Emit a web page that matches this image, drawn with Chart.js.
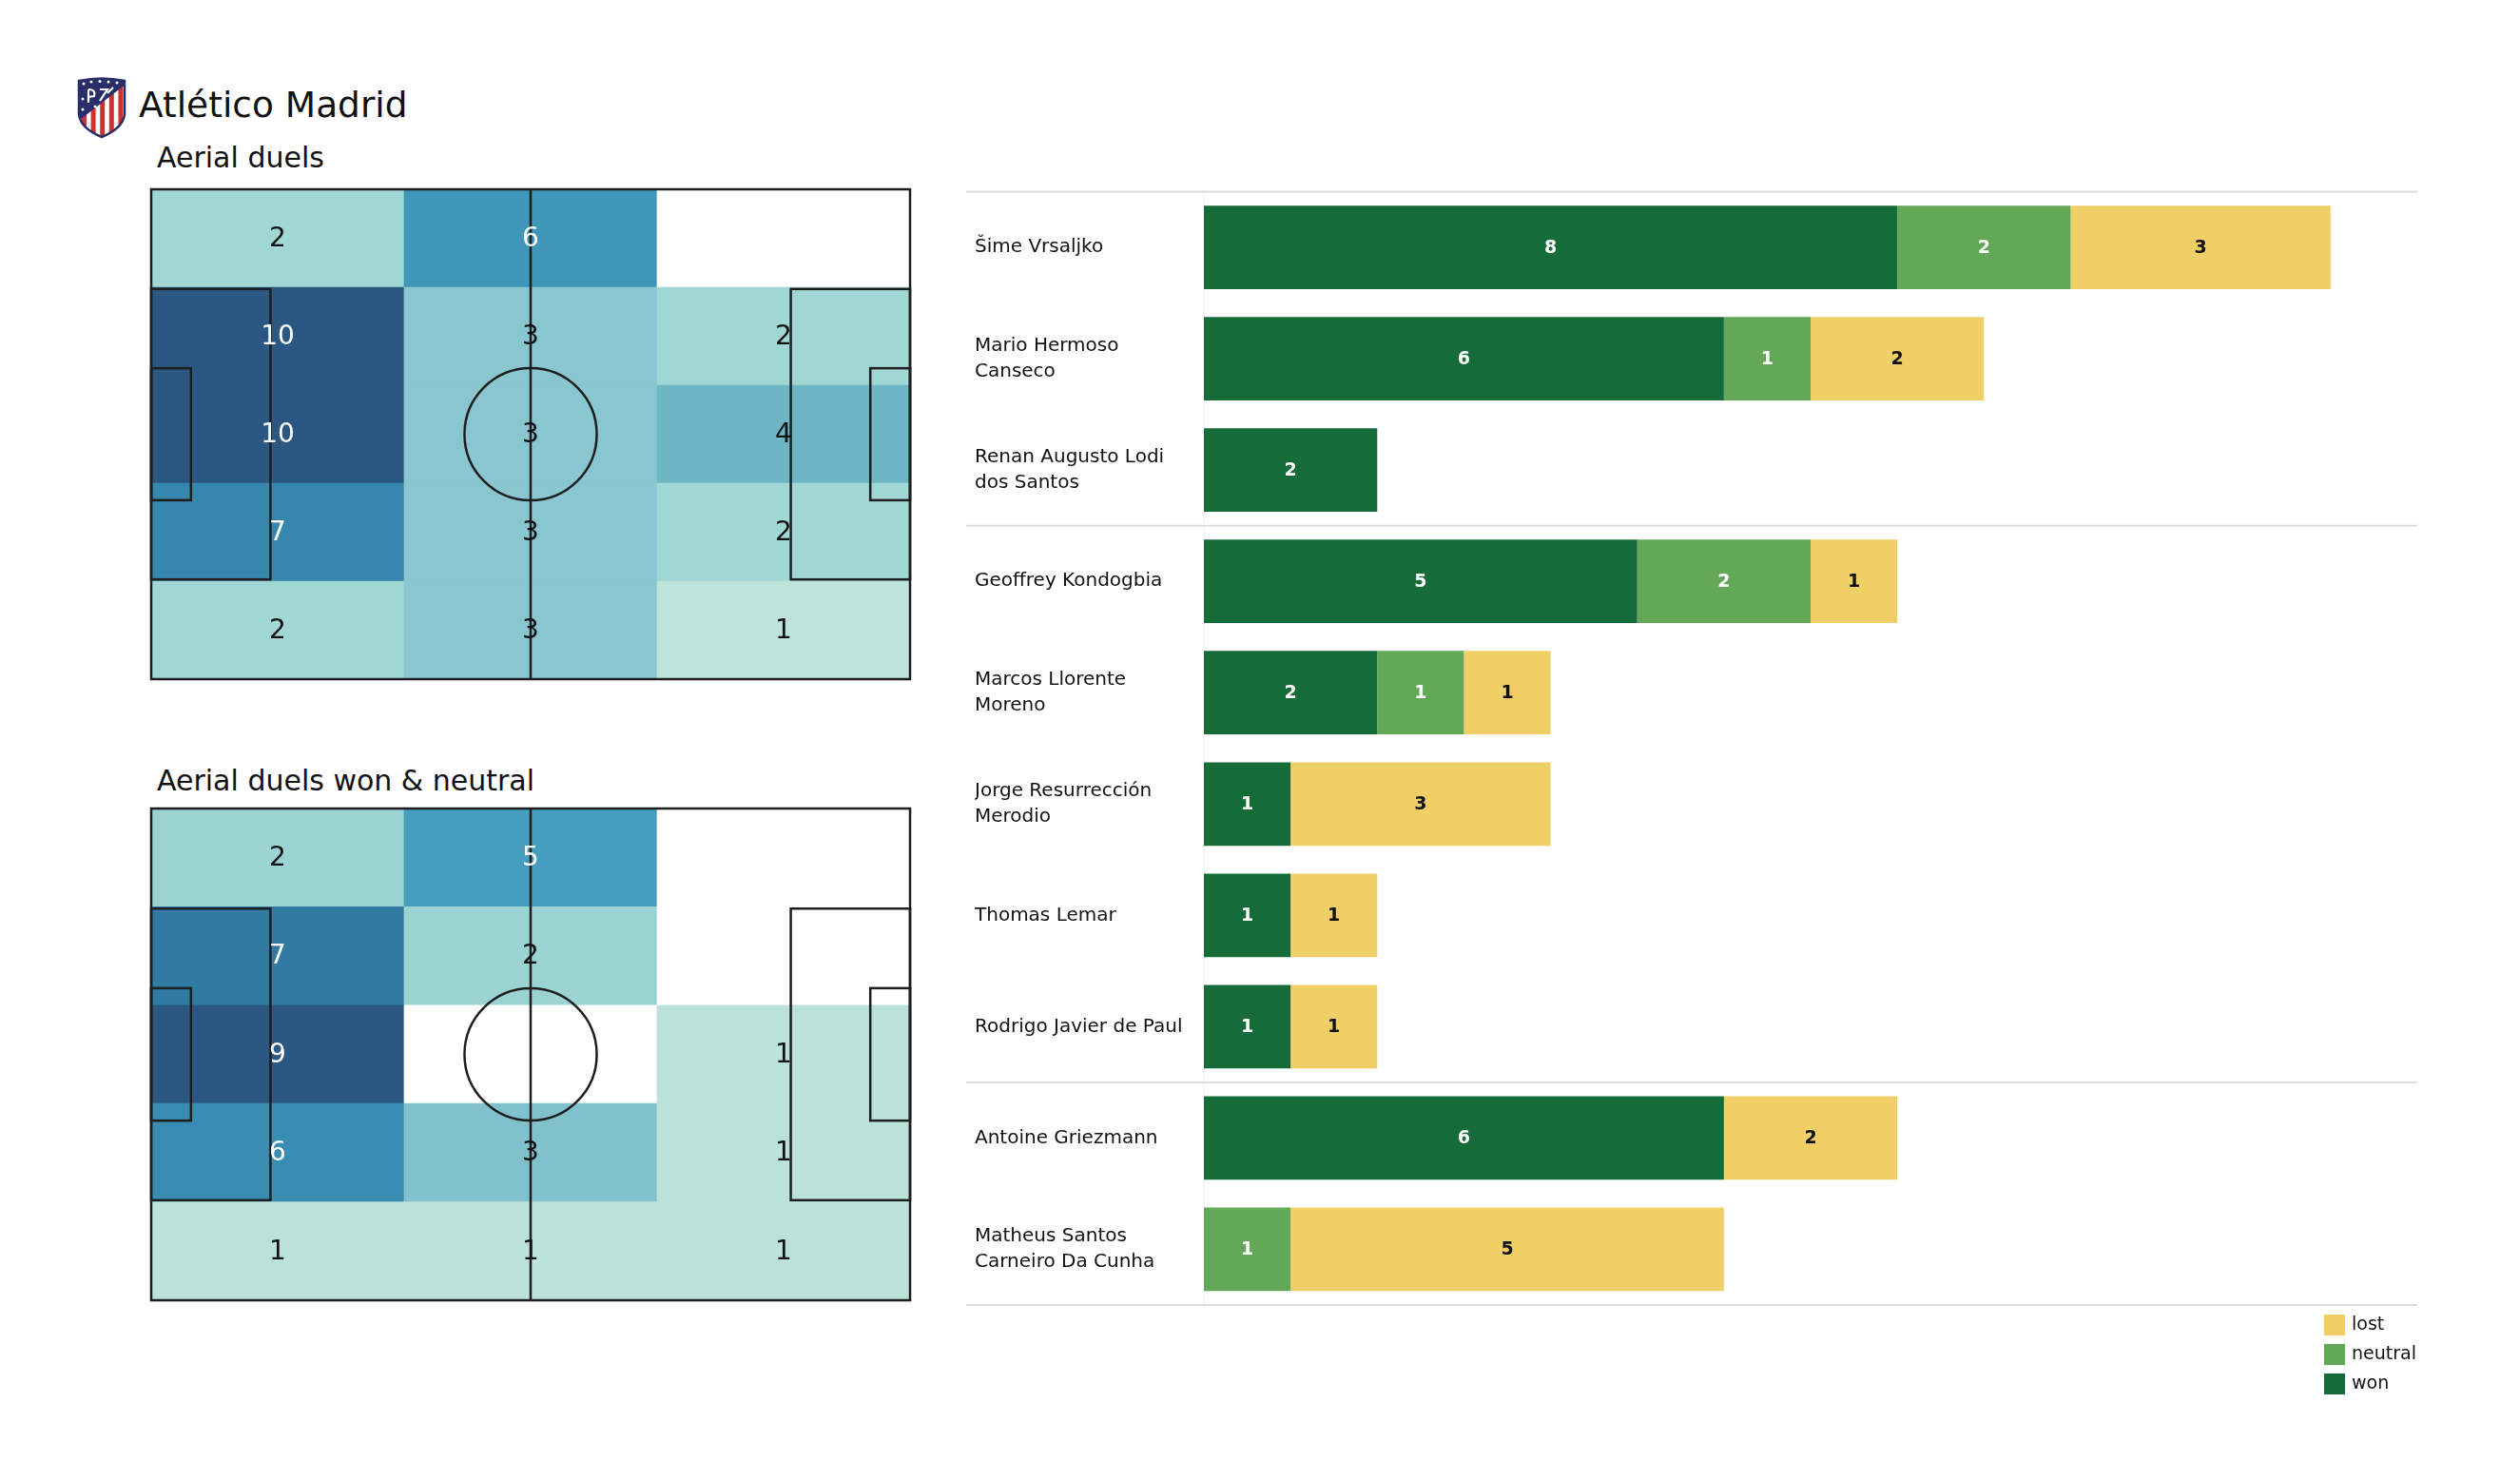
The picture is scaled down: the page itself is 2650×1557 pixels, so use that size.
<!DOCTYPE html>
<html><head><meta charset="utf-8">
<script src="https://cdn.jsdelivr.net/npm/chart.js@4.4.1/dist/chart.umd.min.js"></script>
<style>
html,body{margin:0;padding:0;background:#fff;}
body{width:2650px;height:1557px;position:relative;overflow:hidden;font-family:"DejaVu Sans",sans-serif;}
.abs{position:absolute;}
.t{position:absolute;white-space:nowrap;line-height:1;color:#111;}
</style></head><body>
<canvas id="crest" class="abs" width="52" height="66" style="left:81px;top:80px"></canvas>
<div class="t" style="left:146px;top:91.6px;font-size:37.5px">Atlético Madrid</div>
<div class="t" style="left:165px;top:151.3px;font-size:30px">Aerial duels</div>
<div class="t" style="left:165px;top:806.3px;font-size:30px">Aerial duels won &amp; neutral</div>
<canvas id="pitch1" class="abs" width="818" height="535" style="left:149px;top:189px"></canvas>
<canvas id="pitch2" class="abs" width="818" height="537" style="left:149px;top:840px"></canvas>
<canvas id="bars" class="abs" width="1540" height="1300" style="left:1016px;top:190px"></canvas>
<script>
// ---------------- DATA ----------------
// Heatmap grids: rows top -> bottom, columns left -> right (pitch zones)
const aerialDuels = [
  [2, 6, 0],
  [10, 3, 2],
  [10, 3, 4],
  [7, 3, 2],
  [2, 3, 1]
];
const aerialDuelsWonNeutral = [
  [2, 5, 0],
  [7, 2, 0],
  [9, 0, 1],
  [6, 3, 1],
  [1, 1, 1]
];

const players = [
  ['Šime Vrsaljko'],
  ['Mario Hermoso', 'Canseco'],
  ['Renan Augusto Lodi', 'dos Santos'],
  ['Geoffrey Kondogbia'],
  ['Marcos Llorente', 'Moreno'],
  ['Jorge Resurrección', 'Merodio'],
  ['Thomas Lemar'],
  ['Rodrigo Javier de Paul'],
  ['Antoine Griezmann'],
  ['Matheus Santos', 'Carneiro Da Cunha']
];
const wonValues     = [8, 6, 2, 5, 2, 1, 1, 1, 6, 0];
const neutralValues = [2, 1, 0, 2, 1, 0, 0, 0, 0, 1];
const lostValues    = [3, 2, 0, 1, 1, 3, 1, 1, 2, 5];
const groupBreaks = [3, 8]; // position-group separators (after n players)
const seriesNames = ['won', 'neutral', 'lost'];

// ---------------- STYLE ----------------
Chart.defaults.font.family = "'DejaVu Sans', sans-serif";
const PITCH = {length: 105, width: 68};
const heatStops = [
  [0.0, [212, 238, 226]],
  [0.1, [189, 227, 218]],
  [0.2, [160, 214, 211]],
  [0.3, [137, 198, 207]],
  [0.4, [109, 183, 197]],
  [0.55, [70, 159, 190]],
  [0.65, [58, 143, 180]],
  [0.75, [50, 126, 165]],
  [1.0, [43, 88, 131]]
];
function heatColor(v, maxV) {
  if (!v) return '#ffffff';
  const t = v / maxV;
  for (let i = 1; i < heatStops.length; i++) {
    if (t <= heatStops[i][0]) {
      const [t0, c0] = heatStops[i - 1], [t1, c1] = heatStops[i];
      const f = (t - t0) / (t1 - t0);
      const c = c0.map((a, k) => Math.round(a + (c1[k] - a) * f));
      return `rgb(${c[0]},${c[1]},${c[2]})`;
    }
  }
  const c = heatStops[heatStops.length - 1][1];
  return `rgb(${c[0]},${c[1]},${c[2]})`;
}

const pitchPlugin = {
  id: 'pitchLines',
  afterDatasetsDraw(chart) {
    const {ctx, scales: {x, y}} = chart;
    const X = v => x.getPixelForValue(v), Y = v => y.getPixelForValue(v);
    const L = PITCH.length, W = PITCH.width;
    ctx.save();
    ctx.strokeStyle = '#1e1e1e';
    ctx.lineWidth = 2.5;
    const rect = (x0, y0, x1, y1) => { ctx.strokeRect(X(x0), Y(y0), X(x1) - X(x0), Y(y1) - Y(y0)); };
    rect(0, 0, L, W);
    ctx.beginPath(); ctx.moveTo(X(L / 2), Y(0)); ctx.lineTo(X(L / 2), Y(W)); ctx.stroke();
    ctx.beginPath();
    ctx.arc(X(L / 2), Y(W / 2), X(9.15) - X(0), 0, Math.PI * 2); ctx.stroke();
    const pb = 40.32 / 2, sb = 18.32 / 2;
    rect(0, W / 2 - pb, 16.5, W / 2 + pb);
    rect(L - 16.5, W / 2 - pb, L, W / 2 + pb);
    rect(0, W / 2 - sb, 5.5, W / 2 + sb);
    rect(L - 5.5, W / 2 - sb, L, W / 2 + sb);
    // zone values
    const meta = chart.getDatasetMeta(0);
    const ds = chart.data.datasets[0];
    ctx.font = "28px 'DejaVu Sans'";
    ctx.textAlign = 'center';
    ctx.textBaseline = 'middle';
    meta.data.forEach((el, i) => {
      const raw = ds.data[i];
      if (!raw || !raw.v) return;
      ctx.fillStyle = raw.v / ds.maxV > 0.5 ? '#ffffff' : '#111111';
      ctx.fillText(String(raw.v), el.x, (el.y + el.base) / 2 + 1);
    });
    ctx.restore();
  }
};

function heatConfig(grid) {
  const rows = grid.length, cols = grid[0].length;
  const cw = PITCH.length / cols, rh = PITCH.width / rows;
  const maxV = Math.max(...grid.flat());
  const cells = [];
  grid.forEach((row, r) => row.forEach((v, c) => cells.push({x: (c + 0.5) * cw, y: [r * rh, (r + 1) * rh], v})));
  return {
    type: 'bar',
    data: {datasets: [{
      data: cells, maxV,
      backgroundColor: ctx => ctx.raw ? heatColor(ctx.raw.v, maxV) : '#ffffff',
      borderWidth: 0, borderSkipped: false,
      barPercentage: 1, categoryPercentage: 1
    }]},
    options: {
      responsive: false, animation: false, events: [],
      layout: {padding: 10},
      scales: {
        x: {type: 'linear', min: 0, max: PITCH.length, offset: false, display: false, ticks: {stepSize: cw}},
        y: {type: 'linear', min: 0, max: PITCH.width, reverse: true, display: false}
      },
      plugins: {legend: {display: false}, tooltip: {enabled: false}}
    },
    plugins: [pitchPlugin]
  };
}

new Chart(document.getElementById('pitch1'), heatConfig(aerialDuels));
new Chart(document.getElementById('pitch2'), heatConfig(aerialDuelsWonNeutral));

// ---------------- BAR CHART ----------------
const barDecor = {
  id: 'barDecor',
  beforeDatasetsDraw(chart) {
    const {ctx, chartArea, scales: {y}} = chart;
    const n = chart.data.labels.length;
    const band = y.getPixelForValue(1) - y.getPixelForValue(0);
    const bounds = [0, ...groupBreaks, n];
    ctx.save();
    ctx.strokeStyle = '#dcdcdc';
    ctx.lineWidth = 2;
    bounds.forEach(k => {
      const yy = y.getPixelForValue(0) + (k - 0.5) * band;
      ctx.beginPath(); ctx.moveTo(0, yy); ctx.lineTo(chartArea.right, yy); ctx.stroke();
    });
    ctx.restore();
  },
  afterDatasetsDraw(chart) {
    const {ctx} = chart;
    ctx.save();
    ctx.font = "bold 19px 'DejaVu Sans'";
    ctx.textAlign = 'center';
    ctx.textBaseline = 'middle';
    chart.data.datasets.forEach((ds, di) => {
      const meta = chart.getDatasetMeta(di);
      ctx.fillStyle = ds.valueColor;
      meta.data.forEach((el, i) => {
        const v = ds.data[i];
        if (!v) return;
        ctx.fillText(String(v), (el.x + el.base) / 2, el.y + 1);
      });
    });
    ctx.restore();
  },
  afterDraw(chart) {
    const {ctx, chartArea} = chart;
    const items = chart.data.datasets.slice().reverse();
    ctx.save();
    ctx.font = "19px 'DejaVu Sans'";
    ctx.textAlign = 'left';
    ctx.textBaseline = 'middle';
    const x0 = chartArea.right - 98;
    items.forEach((ds, i) => {
      const yy = chartArea.bottom + 10 + i * 31;
      ctx.fillStyle = ds.backgroundColor;
      ctx.fillRect(x0, yy, 22, 22);
      ctx.fillStyle = '#111';
      ctx.fillText(ds.label, x0 + 29, yy + 11);
    });
    ctx.restore();
  }
};

new Chart(document.getElementById('bars'), {
  type: 'bar',
  data: {
    labels: players,
    datasets: [
      {label: seriesNames[0], data: wonValues, backgroundColor: '#156c39', valueColor: '#ffffff'},
      {label: seriesNames[1], data: neutralValues, backgroundColor: '#62a857', valueColor: '#ffffff'},
      {label: seriesNames[2], data: lostValues, backgroundColor: '#f0cf66', valueColor: '#111111'}
    ]
  },
  options: {
    indexAxis: 'y',
    responsive: false, animation: false, events: [],
    layout: {padding: {left: 9, top: 11.5, right: 14, bottom: 118}},
    datasets: {bar: {barPercentage: 0.75, categoryPercentage: 1, borderWidth: 0}},
    scales: {
      x: {stacked: true, min: 0, max: 14, display: false},
      y: {
        stacked: true,
        grid: {display: false, drawTicks: false},
        border: {display: true, color: '#f0f0f0', width: 1},
        ticks: {crossAlign: 'far', padding: 0, color: '#111', autoSkip: false,
                font: {size: 20, lineHeight: 1.35}},
        afterFit(scale) { scale.width = 241; scale.paddingTop = 0; scale.paddingBottom = 0; }
      }
    },
    plugins: {legend: {display: false}, tooltip: {enabled: false}}
  },
  plugins: [barDecor]
});

// ---------------- CREST ----------------
(function drawCrest() {
  const g = document.getElementById('crest').getContext('2d');
  const w = 48, h = 62;
  g.translate(2, 2);
  const p = new Path2D();
  p.moveTo(0, 3);
  p.quadraticCurveTo(w / 2, -2, w, 3);
  p.lineTo(w, h * 0.62);
  p.quadraticCurveTo(w * 0.96, h * 0.86, w / 2, h);
  p.quadraticCurveTo(w * 0.04, h * 0.86, 0, h * 0.62);
  p.closePath();
  g.fillStyle = '#ffffff'; g.fill(p);
  g.save(); g.clip(p);
  g.fillStyle = '#cb3234';
  for (let i = 0; i < 5; i++) g.fillRect(3 + i * 9.6, 0, 5, h);
  g.fillStyle = '#272e6a';
  g.beginPath(); g.moveTo(0, 0); g.lineTo(w, 0); g.lineTo(w, h * 0.12); g.lineTo(0, h * 0.72); g.closePath(); g.fill();
  g.fillStyle = '#ffffff';
  [[5, 6], [13, 4], [22, 3.5], [31, 4], [40, 5], [4, 22], [4, 33], [17, 30]].forEach(([sx, sy]) => { g.beginPath(); g.arc(sx, sy, 1.5, 0, Math.PI * 2); g.fill(); });
  g.strokeStyle = '#ffffff'; g.lineWidth = 2.2;
  g.beginPath(); g.moveTo(10, 12); g.lineTo(10, 26); g.moveTo(10, 12); g.quadraticCurveTo(18, 12, 16, 19); g.lineTo(10, 20); g.moveTo(22, 12); g.lineTo(30, 12); g.lineTo(22, 24); g.moveTo(30, 16); g.lineTo(36, 10); g.stroke();
  g.restore();
  g.strokeStyle = '#272e6a'; g.lineWidth = 2.5; g.stroke(p);
})();
</script>
</body></html>
